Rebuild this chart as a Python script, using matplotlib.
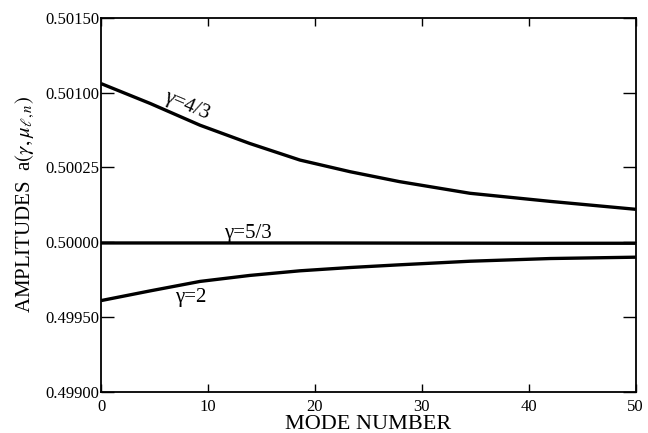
import numpy as np
import matplotlib
matplotlib.use("Agg")
import matplotlib.pyplot as plt

# values
mode_43 = [0, 4.6, 9.25, 13.9, 18.6, 23.3, 27.9, 34.5, 42, 50]
amp_43 = [0.50106, 0.500927, 0.500782, 0.50066, 0.500549, 0.500471,
          0.500405, 0.500327, 0.500273, 0.50022]
mode_53 = [0, 10, 20, 30, 40, 50]
amp_53 = [0.499995, 0.499995, 0.499995, 0.499994, 0.499993, 0.499993]
mode_2 = [0, 4.6, 9.25, 13.9, 18.6, 23.3, 27.9, 34.5, 42, 50]
amp_2 = [0.49961, 0.499675, 0.499738, 0.499778, 0.499809, 0.499831,
         0.499849, 0.499873, 0.499891, 0.4999]

yticks = [0.4990, 0.4995, 0.5000, 0.5005, 0.5010, 0.5015]
ylabels = ["0.49900", "0.49950", "0.50000", "0.50025", "0.50100", "0.50150"]
xticks = [0, 10, 20, 30, 40, 50]

plt.rcParams['font.family'] = ['Liberation Serif', 'DejaVu Serif']
plt.rcParams['mathtext.fontset'] = 'stix'

fig = plt.figure(figsize=(6.48, 4.33), dpi=100)
ax = fig.add_axes([0.156, 0.095, 0.825, 0.864])

for x, y in [(mode_43, amp_43), (mode_53, amp_53), (mode_2, amp_2)]:
    ax.plot(x, y, c="k", lw=2.4, solid_capstyle="butt", solid_joinstyle="round")

ax.set_xlim(0, 50)
ax.set_ylim(0.4990, 0.5015)
ax.set_xticks(xticks)
ax.set_yticks(yticks)
ax.set_yticklabels(ylabels)
ax.tick_params(axis="y", direction="in", length=9.5, width=1.0,
               right=True, labelsize=12, pad=1)
ax.tick_params(axis="x", direction="in", length=6, width=1.0,
               top=True, labelsize=12, pad=5)
for s in ax.spines.values():
    s.set_linewidth(1.3)

ax.text(8.0, 0.500915, "γ=4/3", fontsize=15, rotation=-23,
        ha="center", va="center")
ax.text(13.7, 0.500055, "γ=5/3", fontsize=15, ha="center", va="center")
ax.text(8.4, 0.49963, "γ=2", fontsize=15, ha="center", va="center")

ax.set_xlabel("MODE NUMBER", fontsize=16, labelpad=0)
ax.set_ylabel(r"AMPLITUDES  a$(\gamma,\mu_{\ell,n})$", fontsize=15, labelpad=6)

plt.savefig("out.png", dpi=100)
